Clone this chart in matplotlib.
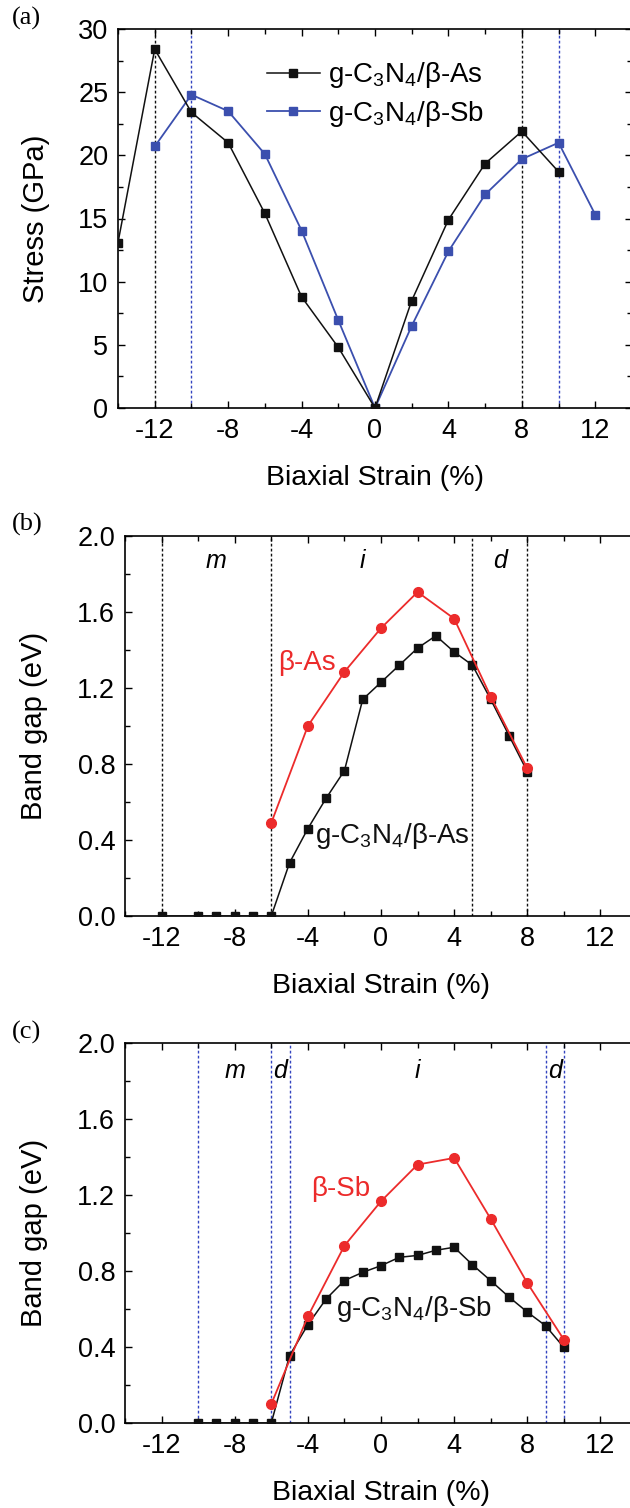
import matplotlib
matplotlib.use("Agg")
import matplotlib.pyplot as plt
from matplotlib.ticker import MultipleLocator, FormatStrFormatter

plt.rcParams['font.family'] = ['Liberation Sans', 'DejaVu Sans']
plt.rcParams['mathtext.fontset'] = 'custom'
plt.rcParams['mathtext.rm'] = 'Liberation Sans'
plt.rcParams['mathtext.it'] = 'Liberation Sans:italic'
plt.rcParams['axes.unicode_minus'] = False

# ---- data (a): stress vs strain
strain_as = [-14, -12, -10, -8, -6, -4, -2, 0, 2, 4, 6, 8, 10]
stress_as = [13.1, 28.4, 23.4, 21.0, 15.4, 8.8, 4.8, 0.0, 8.5, 14.9, 19.35, 21.9, 18.7]
strain_sb = [-12, -10, -8, -6, -4, -2, 0, 2, 4, 6, 8, 10, 12]
stress_sb = [20.7, 24.8, 23.5, 20.1, 14.05, 6.95, 0.0, 6.5, 12.4, 16.9, 19.7, 21.0, 15.3]
vl_a_black = [-12, 8]
vl_a_blue = [-10, 10]

# ---- data (b): band gap, As
strain_b_het = [-12, -10, -9, -8, -7, -6, -5, -4, -3, -2, -1, 0, 1, 2, 3, 4, 5, 6, 7, 8]
gap_b_het = [0, 0, 0, 0, 0, 0, 0.28, 0.46, 0.62, 0.765, 1.14, 1.23, 1.32, 1.41,
             1.475, 1.39, 1.32, 1.14, 0.95, 0.76]
strain_b_mono = [-6, -4, -2, 0, 2, 4, 6, 8]
gap_b_mono = [0.49, 1.0, 1.285, 1.515, 1.705, 1.565, 1.155, 0.777]
vl_b = [-12, -6, 5, 8]
reg_b = [('m', -9), ('i', -1), ('d', 6.5)]

# ---- data (c): band gap, Sb
strain_c_het = [-10, -9, -8, -7, -6, -5, -4, -3, -2, -1, 0, 1, 2, 3, 4, 5, 6, 7, 8, 9, 10]
gap_c_het = [0, 0, 0, 0, 0, 0.355, 0.517, 0.653, 0.75, 0.793, 0.828, 0.872, 0.882,
             0.909, 0.925, 0.833, 0.749, 0.663, 0.584, 0.512, 0.398]
strain_c_mono = [-6, -4, -2, 0, 2, 4, 6, 8, 10]
gap_c_mono = [0.10, 0.561, 0.933, 1.167, 1.36, 1.395, 1.074, 0.737, 0.439]
vl_c = [-10, -6, -5, 9, 10]
reg_c = [('m', -8), ('d', -5.5), ('i', 2), ('d', 9.5)]

BLACK = '#111111'
BLUE = '#3b4fae'
RED = '#ec2b2b'
VBLUE = '#3344c0'

W, H = 630, 1508
fig = plt.figure(figsize=(W / 100, H / 100), dpi=100)


def add_ax(l, t, r, b):
    return fig.add_axes([l / W, 1 - b / H, (r - l) / W, (b - t) / H])


def style(ax, ymax, ymaj, ymin, fmt):
    ax.set_xlim(-14, 14)
    ax.set_ylim(0, ymax)
    ax.xaxis.set_major_locator(MultipleLocator(4))
    ax.xaxis.set_minor_locator(MultipleLocator(2))
    ax.yaxis.set_major_locator(MultipleLocator(ymaj))
    ax.yaxis.set_minor_locator(MultipleLocator(ymin))
    ax.yaxis.set_major_formatter(FormatStrFormatter(fmt))
    ax.tick_params(which='both', direction='in', top=True, right=True, width=1.0)
    ax.tick_params(which='major', length=5, labelsize=19.5, pad=7)
    ax.tick_params(which='minor', length=3.5)
    for s in ax.spines.values():
        s.set_linewidth(1.2)
    ax.set_xlabel('Biaxial Strain (%)', fontsize=20.5)
    ax.xaxis.set_label_coords(0.5, -0.15)
    ax.xaxis.label.set_va('top')


def vlines(ax, xs, color):
    for x in xs:
        ax.axvline(x, color=color, lw=1.0, ls=(0, (2, 1.6)), zorder=1)


# (a)
ax_a = add_ax(118, 29, 632, 408)
vlines(ax_a, vl_a_black, BLACK)
vlines(ax_a, vl_a_blue, VBLUE)
ax_a.plot(strain_as, stress_as, '-s', color=BLACK, lw=1.1, ms=6,
          label=r'g-C$_\mathrm{3}$N$_\mathrm{4}$/β-As', zorder=3)
ax_a.plot(strain_sb, stress_sb, '-s', color=BLUE, lw=1.3, ms=6,
          label=r'g-C$_\mathrm{3}$N$_\mathrm{4}$/β-Sb', zorder=2)
style(ax_a, 30, 5, 2.5, '%d')
ax_a.set_ylabel('Stress (GPa)', fontsize=21)
ax_a.yaxis.set_label_coords(-0.132, 0.5)
ax_a.legend(loc='upper left', bbox_to_anchor=(0.29, 0.917), frameon=False,
            fontsize=20, handlelength=1.9, handletextpad=0.3, labelspacing=0.3,
            borderpad=0, borderaxespad=0)

# (b)
ax_b = add_ax(125, 536, 637, 916)
vlines(ax_b, vl_b, BLACK)
ax_b.plot(strain_b_het, gap_b_het, '-s', color=BLACK, lw=1.1, ms=6, zorder=3)
ax_b.plot(strain_b_mono, gap_b_mono, '-o', color=RED, lw=1.3, ms=7, zorder=4)
style(ax_b, 2.0, 0.4, 0.2, '%.1f')
ax_b.set_ylabel('Band gap (eV)', fontsize=21)
ax_b.yaxis.set_label_coords(-0.151, 0.5)
for txt, x in reg_b:
    ax_b.text(x, 1.87, txt, style='italic', fontsize=18, ha='center', va='center')
ax_b.text(-5.6, 1.33, 'β-As', color=RED, fontsize=20, ha='left', va='center')
ax_b.text(-3.6, 0.42, r'g-C$_\mathrm{3}$N$_\mathrm{4}$/β-As', color=BLACK,
          fontsize=20, ha='left', va='center')

# (c)
ax_c = add_ax(125, 1043, 637, 1423)
vlines(ax_c, vl_c, VBLUE)
ax_c.plot(strain_c_het, gap_c_het, '-s', color=BLACK, lw=1.1, ms=6, zorder=3)
ax_c.plot(strain_c_mono, gap_c_mono, '-o', color=RED, lw=1.3, ms=7, zorder=4)
style(ax_c, 2.0, 0.4, 0.2, '%.1f')
ax_c.set_ylabel('Band gap (eV)', fontsize=21)
ax_c.yaxis.set_label_coords(-0.151, 0.5)
for txt, x in reg_c:
    ax_c.text(x, 1.85, txt, style='italic', fontsize=18, ha='center', va='center')
ax_c.text(-3.8, 1.23, 'β-Sb', color=RED, fontsize=20, ha='left', va='center')
ax_c.text(-2.45, 0.6, r'g-C$_\mathrm{3}$N$_\mathrm{4}$/β-Sb', color=BLACK,
          fontsize=20, ha='left', va='center')

# panel letters
for lab, ypx in [('(a)', 18), ('(b)', 524), ('(c)', 1032)]:
    fig.text(12 / W, 1 - ypx / H, lab, family='Liberation Serif', fontsize=19,
             ha='left', va='center')

fig.savefig('out.png', dpi=100)
